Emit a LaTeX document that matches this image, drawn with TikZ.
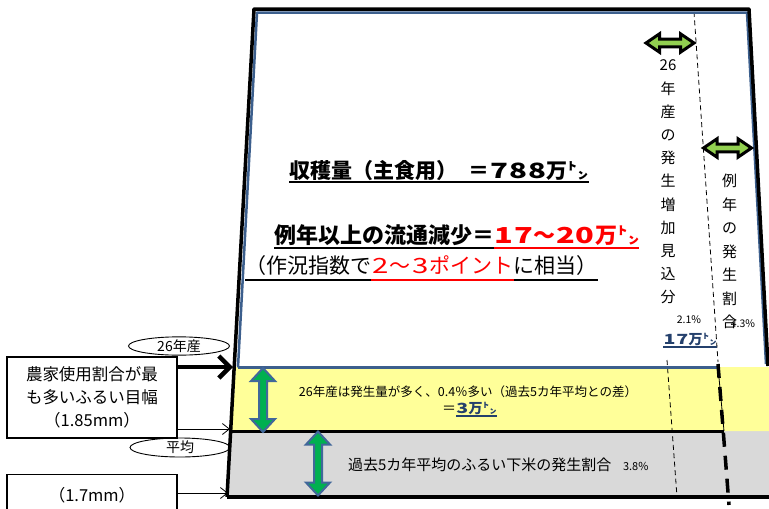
\documentclass[tikz,border=0pt]{standalone}
\usepackage{graphicx}
\usepackage{fontspec}
\setmainfont{Noto Sans CJK JP}
\usetikzlibrary{arrows.meta,shapes.geometric}
\definecolor{edgeblue}{HTML}{3C5F8D}
\definecolor{arrowblue}{HTML}{41679A}
\definecolor{lgreen}{HTML}{92D050}
\definecolor{dgreen}{HTML}{00B050}
\definecolor{ylw}{HTML}{FFFF99}
\definecolor{gry}{HTML}{D9D9D9}
\definecolor{navy}{HTML}{24406C}
\newcommand\wdig[1]{\makebox[0.9em]{\scalebox{1.4}[1]{#1}}}
\begin{document}
\begin{tikzpicture}[x=1pt,y=-1pt,
  txt/.style={inner sep=0pt, outer sep=0pt},
  thickdash/.style={line width=3.5pt, dash pattern=on 14pt off 9pt},
  thindash/.style={line width=0.8pt, dash pattern=on 5pt off 3.5pt},
  boxstyle/.style={draw, line width=1.2pt, minimum width=170pt, inner sep=0pt},
  oval/.style={draw, ellipse, line width=0.9pt, inner sep=0pt, font=\fontsize{14}{16}\selectfont},
  thinarrow/.style={line width=0.8pt, -{Straight Barb[length=7pt,width=11pt]}},
  hdbl/.pic={\filldraw[fill=lgreen, draw=black, line width=3pt, line join=miter]
     (-24,0) -- (-10.5,-9.2) -- (-10.5,-3.8) -- (10.5,-3.8) -- (10.5,-9.2) -- (24,0)
     -- (10.5,9.2) -- (10.5,3.8) -- (-10.5,3.8) -- (-10.5,9.2) -- cycle;},
  vdbl/.pic={\filldraw[fill=dgreen, draw=arrowblue, line width=2pt, line join=miter]
     (0,-32) -- (12,-19) -- (4,-19) -- (4,19) -- (12,19) -- (0,32)
     -- (-12,19) -- (-4,19) -- (-4,-19) -- (-12,-19) -- cycle;}
]
\useasboundingbox (0,0) rectangle (769,509);
\fill[white] (0,0) rectangle (769,509);

% fills
\fill[gry] (230,431) -- (769,431) -- (769,497) -- (227,497) -- cycle;
\fill[ylw] (236,367) -- (769,367) -- (769,431) -- (232,431) -- cycle;

% dashed guide lines
\draw[thindash] (694,12) -- (718,362);
\draw[thindash] (667,360) -- (677,497);

% structure lines
\draw[line width=3pt] (232,431) -- (724,431);
\draw[line width=0.8pt] (718,367) -- (724,431);
\draw[edgeblue, line width=2.5pt, line join=round] (238,367.5) -- (257,12.5) -- (747,12.5) -- (766,364);
\draw[edgeblue, line width=2.5pt] (238,367.5) -- (718,367.5);
\draw[line width=3.5pt, line join=round] (227,497) -- (254,9) -- (749,9) -- (768,366);
\draw[line width=3.5pt] (227,497) -- (769,497);
\draw[thickdash] (718,364) -- (729,505);

% arrows (shapes)
\pic at (670,43) {hdbl};
\pic at (727.5,148) {hdbl};
\pic at (263,400) {vdbl};
\pic at (318,463.5) {vdbl};

% main texts
\node[txt, anchor=base west, font=\fontsize{21}{25}\selectfont\bfseries] (m1) at (289,178) {収穫量（主食用）\hspace{12pt}＝\wdig{7}\wdig{8}\wdig{8}万㌧};
\draw[line width=2pt] ([yshift=-4pt]m1.base west) -- ([yshift=-4pt]m1.base east);

\node[txt, anchor=base west, font=\fontsize{22}{26}\selectfont\bfseries] (m2a) at (274,243) {例年以上の流通減少＝};
\node[txt, anchor=base west, font=\fontsize{22}{26}\selectfont\bfseries, text=red] (m2b) at (m2a.base east) {\wdig{1}\wdig{7}～\wdig{2}\wdig{0}万㌧};
\draw[line width=2.3pt] ([yshift=-5pt]m2a.base west) -- ([yshift=-5pt]m2a.base east);
\draw[red, line width=2.3pt] ([yshift=-5pt]m2b.base west) -- ([yshift=-5pt]m2b.base east);

\node[txt, anchor=base west, font=\fontsize{21}{25}\selectfont] (m3a) at (245,273) {（作況指数で};
\node[txt, anchor=base west, font=\fontsize{21}{25}\selectfont, text=red] (m3b) at (m3a.base east) {\wdig{2}～\wdig{3}ポイント};
\node[txt, anchor=base west, font=\fontsize{21}{25}\selectfont] (m3c) at (m3b.base east) {に相当）};
\draw[line width=1.5pt] ([yshift=-7pt]m3a.base west) -- ([yshift=-7pt]m3a.base east);
\draw[red, line width=1.5pt] ([yshift=-7pt]m3b.base west) -- ([yshift=-7pt]m3b.base east);
\draw[line width=1.5pt] ([yshift=-7pt]m3c.base west) -- ([yshift=-7pt]m3c.base east);

% vertical texts
\node[txt, align=center, font=\fontsize{15}{23.2}\selectfont] (v1) at (668,182) {26\\年\\産\\の\\発\\生\\増\\加\\見\\込\\分};
\node[txt, font=\fontsize{10.5}{12}\selectfont] (p21) at (689,320) {2.1\%};
\node[txt, anchor=base, font=\fontsize{14}{16}\selectfont\bfseries, text=navy] (n17) at (690,344) {\wdig{1}\wdig{7}万㌧};
\draw[navy, line width=1.2pt] ([yshift=-3pt]n17.base west) -- ([yshift=-3pt]n17.base east);

\node[txt, align=center, font=\fontsize{15}{23.5}\selectfont] (v2) at (729.5,251.5) {例\\年\\の\\発\\生\\割\\合};
\node[txt, font=\fontsize{10.5}{12}\selectfont] (p43) at (743,324) {4.3\%};

% band texts
\node[txt, anchor=base, font=\fontsize{12.5}{15}\selectfont] (y1) at (468,396) {26年産は発生量が多く、0.4％多い（過去5カ年平均との差）};
\node[txt, anchor=base west, font=\fontsize{14}{16}\selectfont] (y2a) at (442,413) {＝};
\node[txt, anchor=base west, font=\fontsize{14}{16}\selectfont\bfseries, text=navy] (y2b) at (y2a.base east) {\wdig{3}万㌧};
\draw[navy, line width=1.2pt] ([yshift=-3pt]y2b.base west) -- ([yshift=-3pt]y2b.base east);

\node[txt, anchor=base west, font=\fontsize{15}{18}\selectfont] (g1) at (348,470) {過去5カ年平均のふるい下米の発生割合};
\node[txt, anchor=base west, font=\fontsize{11}{13}\selectfont] (g2) at (623,470) {3.8\%};

% left side
\node[boxstyle, minimum height=81pt, align=center, font=\fontsize{16.5}{23}\selectfont] (b1) at (92,397.5) {農家使用割合が最\\も多いふるい目幅\\（1.85mm）};
\node[boxstyle, minimum height=42pt, anchor=north, font=\fontsize{16.5}{20}\selectfont] (b2) at (92,474) {（1.7mm）};
\node[oval, minimum width=101pt, minimum height=18pt] (e1) at (179,346) {26年産};
\node[oval, minimum width=100pt, minimum height=19pt] (e2) at (180,447.5) {平均};

\coordinate (t1) at (233,367);
\coordinate (t2) at (230,429);
\coordinate (t3) at (228,493);
\draw[line width=4.5pt, -{Straight Barb[length=11pt,width=22pt]}] (b1.east |- t1) -- (t1);
\draw[thinarrow] (b1.east |- t2) -- (t2);
\draw[thinarrow] (b2.east |- t3) -- (t3);
\end{tikzpicture}
\end{document}
